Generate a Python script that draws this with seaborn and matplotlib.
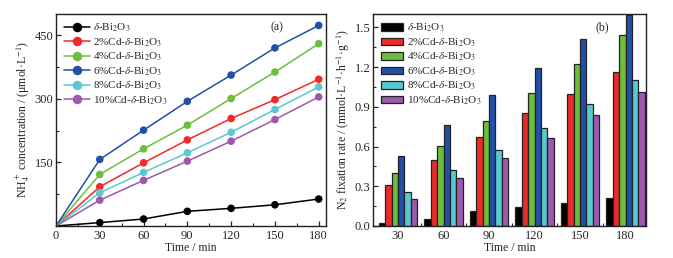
import numpy as np
import pandas as pd
import matplotlib
matplotlib.use("Agg")
import matplotlib.pyplot as plt
import seaborn as sns
from matplotlib.ticker import MultipleLocator, FixedLocator
from matplotlib.lines import Line2D
from matplotlib.patches import Patch

sns.set_theme(style="ticks")
plt.rcParams['font.family'] = ['Liberation Serif', 'DejaVu Serif']
plt.rcParams['mathtext.fontset'] = 'stix'

samples = [r"$\delta$-Bi$_2$O$_3$", r"2%Cd-$\delta$-Bi$_2$O$_3$", r"4%Cd-$\delta$-Bi$_2$O$_3$",
           r"6%Cd-$\delta$-Bi$_2$O$_3$", r"8%Cd-$\delta$-Bi$_2$O$_3$", r"10%Cd-$\delta$-Bi$_2$O$_3$"]
colors = ["#000000", "#EE2A2A", "#6CBF3C", "#2050A8", "#5AC8D2", "#9B59B0"]

times = [0, 30, 60, 90, 120, 150, 180]
nh4_bi2o3 = [0, 8, 16.5, 34.6, 41.7, 50, 63.6]
nh4_cd2 = [0, 92.6, 149, 203, 253.6, 298, 346]
nh4_cd4 = [0, 121.7, 182, 237.8, 300.7, 363, 430]
nh4_cd6 = [0, 157, 226, 294, 356, 420, 473]
nh4_cd8 = [0, 78.4, 126.4, 172.6, 221, 274.8, 328]
nh4_cd10 = [0, 61, 107.6, 153, 200, 251, 304.5]

bar_times = ["30", "60", "90", "120", "150", "180"]
rate_bi2o3 = [0.02, 0.055, 0.115, 0.14, 0.17, 0.215]
rate_cd2 = [0.31, 0.50, 0.675, 0.85, 1.0, 1.16]
rate_cd4 = [0.40, 0.605, 0.795, 1.005, 1.22, 1.44]
rate_cd6 = [0.525, 0.76, 0.985, 1.195, 1.41, 1.59]
rate_cd8 = [0.26, 0.42, 0.575, 0.74, 0.92, 1.10]
rate_cd10 = [0.205, 0.36, 0.515, 0.665, 0.84, 1.015]

nh4_all = [nh4_bi2o3, nh4_cd2, nh4_cd4, nh4_cd6, nh4_cd8, nh4_cd10]
rate_all = [rate_bi2o3, rate_cd2, rate_cd4, rate_cd6, rate_cd8, rate_cd10]

df_line = pd.DataFrame([(s, t, v) for s, vals in zip(samples, nh4_all) for t, v in zip(times, vals)],
                       columns=["sample", "time", "nh4"])
df_bar = pd.DataFrame([(s, t, v) for s, vals in zip(samples, rate_all) for t, v in zip(bar_times, vals)],
                      columns=["sample", "time", "rate"])

fig = plt.figure(figsize=(6.73, 2.58), dpi=100)
ax1 = fig.add_axes([56/673, 1-226/258, 270/673, 212/258])
ax2 = fig.add_axes([373/673, 1-226/258, 273/673, 212/258])

pal = dict(zip(samples, colors))
sns.lineplot(data=df_line, x="time", y="nh4", hue="sample", hue_order=samples, palette=pal,
             ax=ax1, legend=False, linewidth=1.1)
sns.scatterplot(data=df_line[df_line["time"] > 0], x="time", y="nh4", hue="sample", hue_order=samples,
                palette=pal, ax=ax1, legend=False, s=30, edgecolor="none", zorder=3)
ax1.set_xlim(0, 185)
ax1.set_ylim(0, 500)
ax1.xaxis.set_major_locator(FixedLocator(times))
ax1.xaxis.set_minor_locator(MultipleLocator(15))
ax1.yaxis.set_major_locator(FixedLocator([150, 300, 450]))
ax1.yaxis.set_minor_locator(MultipleLocator(75))
ax1.set_xlabel("Time / min", fontsize=8.5, labelpad=0)
ax1.set_ylabel(r"NH$_4^+$ concentration / (μmol·L$^{-1}$)", fontsize=8.5, labelpad=2)
handles = [Line2D([], [], color=c, marker='o', markersize=5.8, linewidth=1.1) for c in colors]
ax1.legend(handles, samples, loc="upper left", frameon=False, fontsize=8, handlelength=2.35,
           labelspacing=0.18, handletextpad=0.3, borderaxespad=0.3, bbox_to_anchor=(0.0, 1.0))
ax1.text(0.82, 0.935, "(a)", transform=ax1.transAxes, fontsize=8.5, va="center", ha="center")

sns.barplot(data=df_bar, x="time", y="rate", hue="sample", hue_order=samples, order=bar_times,
            palette=pal, ax=ax2, width=0.84, edgecolor="#222222", linewidth=0.9, legend=False,
            saturation=1)
ax2.set_xlim(-0.55, 5.45)
ax2.set_ylim(0, 1.6)
ax2.yaxis.set_major_locator(FixedLocator([0.0, 0.3, 0.6, 0.9, 1.2, 1.5]))
ax2.yaxis.set_major_formatter(matplotlib.ticker.FormatStrFormatter("%.1f"))
ax2.yaxis.set_minor_locator(MultipleLocator(0.15))
ax2.xaxis.set_minor_locator(FixedLocator([0.5, 1.5, 2.5, 3.5, 4.5]))
ax2.set_xlabel("Time / min", fontsize=8.5, labelpad=0)
ax2.set_ylabel(r"N$_2$ fixation rate / (mmol·L$^{-1}$·h$^{-1}$·g$^{-1}$)", fontsize=8.5, labelpad=2)
phandles = [Patch(facecolor=c, edgecolor="#222222", linewidth=0.9) for c in colors]
leg2 = ax2.legend(phandles, samples, loc="upper left", frameon=False, fontsize=8, handlelength=2.0,
                  handleheight=0.65, labelspacing=0.18, handletextpad=0.4, borderaxespad=0.3,
                  bbox_to_anchor=(0.0, 1.0))
leg2.set_zorder(10)
ax2.text(0.838, 0.935, "(b)", transform=ax2.transAxes, fontsize=8.5, va="center", ha="center")

for ax in (ax1, ax2):
    ax.tick_params(which="both", direction="in", labelsize=9, pad=2)
    ax.tick_params(which="major", length=3.5, width=0.9)
    ax.tick_params(which="minor", length=2, width=0.8)
    ax.tick_params(axis="x", which="major", pad=3)
    for sp in ax.spines.values():
        sp.set_linewidth(1.0)
        sp.set_color("#222222")
ax2.tick_params(axis="x", which="major", length=0)

fig.savefig("out.png", dpi=100)
